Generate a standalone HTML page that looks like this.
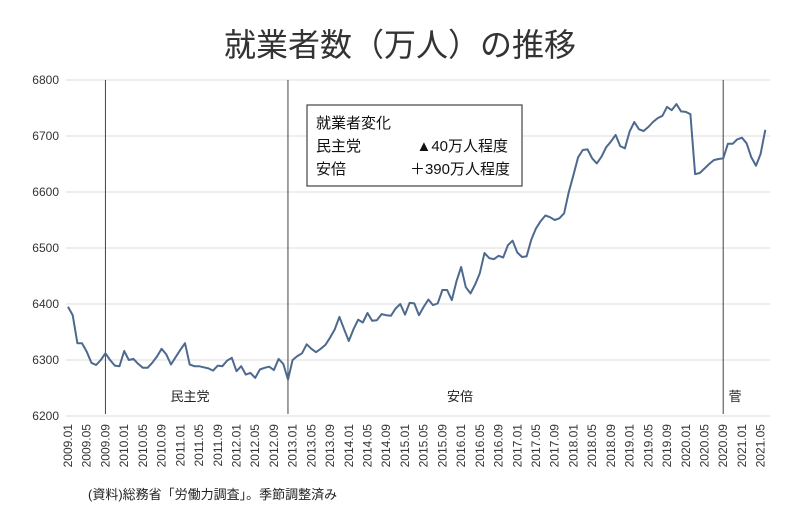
<!DOCTYPE html>
<html><head><meta charset="utf-8">
<style>
body{margin:0;background:#fff;}
svg text{font-family:"Liberation Sans","Noto Sans CJK JP",sans-serif;}
</style></head>
<body>
<svg width="800" height="509" viewBox="0 0 800 509" xmlns="http://www.w3.org/2000/svg">
<rect width="800" height="509" fill="#fff"/>
<text x="400" y="56" font-size="32" text-anchor="middle" fill="#333">就業者数（万人）の推移</text>
<g id="grid"></g>
<g id="yaxis"></g>
<g id="xaxis"></g>
<g id="vlines"></g>
<path id="line" fill="none" stroke="#4d6a8e" stroke-width="2" stroke-linejoin="round"/>
<g font-size="13" fill="#222">
<text x="190" y="401" text-anchor="middle">民主党</text>
<text x="460" y="401" text-anchor="middle">安倍</text>
<text x="735" y="401" text-anchor="middle">菅</text>
</g>
<g>
<rect x="307" y="105" width="215" height="81" fill="#fff" stroke="#444" stroke-width="1.2"/>
<text x="316" y="128" font-size="15" fill="#111">就業者変化</text>
<text x="316" y="151" font-size="15" fill="#111">民主党</text>
<text x="508" y="151" font-size="15" fill="#111" text-anchor="end">▲40万人程度</text>
<text x="316" y="174" font-size="15" fill="#111">安倍</text>
<text x="510" y="174" font-size="15" fill="#111" text-anchor="end">＋390万人程度</text>
</g>
<text x="88" y="499" font-size="13" fill="#222">(資料)総務省「労働力調査」。季節調整済み</text>
</svg>
<script>
const values=[6395,6380,6330,6330,6315,6295,6291,6300,6312,6300,6290,6289,6316,6300,6302,6293,6286,6286,6295,6306,
6320,6310,6292,6305,6318,6330,6292,6289,6289,6287,6285,6281,6290,6289,6299,6304,6280,6289,6274,6277,
6268,6283,6286,6288,6282,6302,6293,6265,6300,6307,6312,6328,6320,6314,6320,6327,6340,6355,6377,6355,
6334,6355,6372,6367,6384,6370,6371,6382,6380,6379,6392,6400,6381,6402,6401,6380,6395,6408,6398,6401,
6425,6425,6407,6440,6466,6430,6419,6435,6455,6491,6482,6480,6486,6483,6505,6513,6492,6484,6485,6515,
6535,6548,6558,6555,6550,6553,6562,6600,6630,6662,6675,6676,6660,6651,6663,6680,6690,6702,6682,6678,
6708,6725,6712,6709,6716,6725,6732,6736,6752,6746,6757,6744,6743,6739,6632,6634,6642,6650,6657,6659,
6660,6686,6686,6694,6697,6687,6662,6647,6668,6711];
const yTicks=[6200,6300,6400,6500,6600,6700,6800];
const startYear=2009;
const dividerMonths=[8,47,140];
const NS="http://www.w3.org/2000/svg";
const x=i=>68+i*4.68;
const y=v=>416-(v-6200)*0.56;
const grid=document.getElementById('grid'),ya=document.getElementById('yaxis'),xa=document.getElementById('xaxis'),vl=document.getElementById('vlines');
yTicks.forEach(t=>{
 const l=document.createElementNS(NS,'line');
 
 
 l.setAttribute('x1',66);l.setAttribute('x2',770);l.setAttribute('y1',y(t));l.setAttribute('y2',y(t));
 l.setAttribute('stroke','#dcdcdc');l.setAttribute('stroke-width','1');grid.appendChild(l);
 const tx=document.createElementNS(NS,'text');
 
 
 tx.setAttribute('x',59);tx.setAttribute('y',y(t)+4);tx.setAttribute('text-anchor','end');tx.setAttribute('font-size','12');tx.setAttribute('fill','#333');
 tx.textContent=t;ya.appendChild(tx);
});
for(let i=0;i<values.length;i+=4){
 const yr=startYear+Math.floor(i/12),mo=i%12+1;
 const lab=yr+'.'+(mo<10?'0':'')+mo;
 const tx=document.createElementNS(NS,'text');
 
 
 const px=x(i)+4;
 tx.setAttribute('transform','translate('+px+',424) rotate(-90)');
 tx.setAttribute('text-anchor','end');tx.setAttribute('font-size','12');tx.setAttribute('fill','#333');
 tx.textContent=lab;xa.appendChild(tx);
}
dividerMonths.forEach(m=>{
 const l=document.createElementNS(NS,'line');
 
 
 l.setAttribute('x1',x(m));l.setAttribute('x2',x(m));l.setAttribute('y1',80);l.setAttribute('y2',414);
 l.setAttribute('stroke','#444');l.setAttribute('stroke-width','1');vl.appendChild(l);
});
document.getElementById('line').setAttribute('d',values.map((v,i)=>(i?'L':'M')+x(i).toFixed(1)+','+y(v).toFixed(1)).join(''));
</script>
</body></html>
